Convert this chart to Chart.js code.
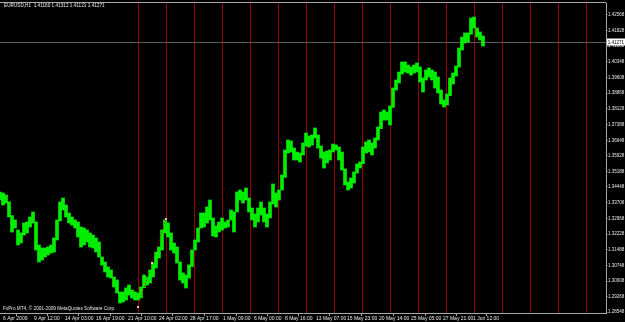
<!DOCTYPE html>
<html>
<head>
<meta charset="utf-8">
<title>EURUSD,H1</title>
<style>
  html, body { margin: 0; padding: 0; background: #000; }
  #wrap { width: 625px; height: 322px; }
</style>
</head>
<body>
<div id="wrap"><canvas id="chart" width="625" height="322"></canvas></div>
<script src="https://cdn.jsdelivr.net/npm/chart.js@4.4.0/dist/chart.umd.min.js"></script>
<script>
/* ---------------- Data ---------------- */
const symbol = 'EURUSD,H1';
const lastOHLC = ['1.41160', '1.41312', '1.41121', '1.41271'];
const lastPrice = 1.41271;
const copyright = 'FxPro MT4, \u00A9 2001-2009 MetaQuotes Software Corp.';

// one sample = 6 hourly bars (high / low of the window)
const STEP_HOURS = 6;
const highs = [
  1.34212, 1.34165, 1.34071, 1.33750, 1.33100, 1.32892, 1.32421, 1.32280, 1.32751, 1.32798,
  1.33034, 1.33269, 1.32800, 1.31714, 1.31573, 1.31573, 1.31620, 1.31714, 1.32044, 1.32892,
  1.33741, 1.33929, 1.33599, 1.33222, 1.33034, 1.32892, 1.32798, 1.32562, 1.32515, 1.32421,
  1.32280, 1.32185, 1.32044, 1.31856, 1.31149, 1.30913, 1.30677, 1.30536, 1.30206, 1.30065,
  1.29499, 1.29499, 1.29688, 1.29829, 1.29593, 1.29499, 1.29452, 1.29735, 1.30300, 1.30206,
  1.30536, 1.30866, 1.31384, 1.31620, 1.32421, 1.32892, 1.32751, 1.32280, 1.31808, 1.31620,
  1.30913, 1.30395, 1.30300, 1.30772, 1.31479, 1.31950, 1.32515, 1.33222, 1.33222, 1.33505,
  1.33835, 1.32987, 1.32610, 1.32798, 1.32987, 1.32798, 1.32892, 1.33364, 1.33269, 1.34212,
  1.34306, 1.34212, 1.34401, 1.33929, 1.33458, 1.33175, 1.33458, 1.33741, 1.33458, 1.33175,
  1.33741, 1.34589, 1.34165, 1.34306, 1.35013, 1.36191, 1.36663, 1.36616, 1.36286, 1.36097,
  1.36050, 1.36521, 1.36993, 1.36851, 1.36898, 1.37228, 1.36898, 1.36380, 1.36097, 1.36144,
  1.36191, 1.36474, 1.36427, 1.36333, 1.36097, 1.35300, 1.34683, 1.34872, 1.35155, 1.35532,
  1.35626, 1.36333, 1.36569, 1.36663, 1.36521, 1.36757, 1.37275, 1.37982, 1.38077, 1.37982,
  1.38265, 1.39114, 1.39491, 1.39868, 1.40339, 1.40339, 1.40198, 1.40103, 1.40198, 1.40292,
  1.40103, 1.39585, 1.39962, 1.40056, 1.39962, 1.39868, 1.39632, 1.39019, 1.38548, 1.38831,
  1.39585, 1.39820, 1.40150, 1.40999, 1.41517, 1.41706, 1.41706, 1.42413, 1.42460, 1.41941,
  1.41753, 1.41564
];
const lows = [
  1.33835, 1.33599, 1.33694, 1.33034, 1.32327, 1.32515, 1.31714, 1.31808, 1.32185, 1.32280,
  1.32562, 1.32751, 1.31479, 1.30913, 1.31007, 1.31149, 1.31243, 1.31337, 1.31384, 1.31950,
  1.32850, 1.33364, 1.33034, 1.32751, 1.32657, 1.32515, 1.32091, 1.31620, 1.31714, 1.31856,
  1.31620, 1.31573, 1.31384, 1.31149, 1.30772, 1.30442, 1.30206, 1.30159, 1.29735, 1.29452,
  1.28981, 1.29028, 1.29122, 1.29358, 1.29216, 1.29122, 1.29122, 1.29216, 1.29700, 1.29829,
  1.29923, 1.30206, 1.30630, 1.31101, 1.31479, 1.32280, 1.32091, 1.31479, 1.31337, 1.30866,
  1.30065, 1.29923, 1.29688, 1.30159, 1.30700, 1.31479, 1.31856, 1.32515, 1.32562, 1.32751,
  1.32892, 1.32138, 1.32091, 1.32327, 1.32421, 1.32515, 1.32562, 1.32892, 1.32327, 1.33269,
  1.33835, 1.33694, 1.33835, 1.33269, 1.32892, 1.32562, 1.32798, 1.33128, 1.32798, 1.32562,
  1.32987, 1.33650, 1.33505, 1.33835, 1.34306, 1.34900, 1.36050, 1.36097, 1.35720, 1.35720,
  1.35626, 1.35956, 1.36380, 1.36333, 1.36427, 1.36757, 1.36286, 1.35814, 1.35343, 1.35579,
  1.35720, 1.36097, 1.36191, 1.35720, 1.35249, 1.34542, 1.34306, 1.34401, 1.34636, 1.35107,
  1.35343, 1.35550, 1.36050, 1.36097, 1.35956, 1.36286, 1.36663, 1.37200, 1.37605, 1.37605,
  1.37370, 1.38200, 1.39019, 1.39349, 1.39773, 1.39868, 1.39820, 1.39726, 1.39820, 1.39868,
  1.39396, 1.38925, 1.39491, 1.39632, 1.39491, 1.39114, 1.38878, 1.38360, 1.38218, 1.38312,
  1.38750, 1.39302, 1.39679, 1.40100, 1.40905, 1.41234, 1.41282, 1.41650, 1.41941, 1.41517,
  1.41376, 1.41093
];

// time axis (hours from the first bar)
const timeLabels = ['6 Apr 2009', '9 Apr 12:00', '14 Apr 03:00', '16 Apr 19:00', '21 Apr 10:00',
  '24 Apr 02:00', '28 Apr 17:00', '1 May 09:00', '6 May 00:00', '8 May 16:00', '13 May 07:00',
  '15 May 23:00', '20 May 14:00', '25 May 05:00', '27 May 21:00', '1 Jun 12:00'];
const timeTickHours = [2, 64, 126, 188, 252, 314, 376, 442, 504, 566, 628, 690, 754, 818, 882, 942];
const hourRange = [0, 1212];

// price axis
const priceTicks = [1.42568, 1.41828, 1.41088, 1.40348, 1.39608, 1.38868, 1.38128, 1.37388,
  1.36648, 1.35928, 1.35188, 1.34448, 1.33708, 1.32968, 1.32228, 1.31488, 1.30748, 1.30008,
  1.29268, 1.28548];
const priceRange = [1.28509, 1.43120];

// red vertical lines
const separatorHours = [276, 332, 388, 444, 500, 556, 612, 668, 724, 780, 836, 892, 948,
  1004, 1060, 1116, 1172];

// trade arrows
const tradeHours = [276, 304, 332];
const tradePrices = [1.28792, 1.30866, 1.32940];

/* ---------------- Styles ---------------- */
const FONT = 'Liberation Sans';
const AXIS_COLOR = '#a8a8a8';
const TEXT_COLOR = '#e8e8e8';

/* ---------------- Plugins ---------------- */
const backgroundPlugin = {
  id: 'background',
  beforeDraw(chart) {
    const c = chart.ctx;
    c.save();
    c.fillStyle = '#000';
    c.fillRect(0, 0, chart.width, chart.height);
    c.restore();
  }
};

const overlayPlugin = {
  id: 'overlay',
  beforeDatasetsDraw(chart) {
    const c = chart.ctx;
    const area = chart.chartArea;
    const xs = chart.scales.x;
    const ys = chart.scales.y;
    c.save();
    // separators
    c.strokeStyle = '#9a0000';
    c.lineWidth = 1;
    separatorHours.forEach(h => {
      const px = Math.round(xs.getPixelForValue(h)) + 0.5;
      c.beginPath();
      c.moveTo(px, area.top);
      c.lineTo(px, area.bottom);
      c.stroke();
    });
    // current price line
    const py = Math.round(ys.getPixelForValue(lastPrice)) + 0.5;
    c.strokeStyle = '#5c5c5c';
    c.beginPath();
    c.moveTo(area.left, py);
    c.lineTo(area.right, py);
    c.stroke();
    c.restore();
  },
  afterDraw(chart) {
    const c = chart.ctx;
    const area = chart.chartArea;
    const ys = chart.scales.y;
    c.save();
    // top border
    c.strokeStyle = AXIS_COLOR;
    c.lineWidth = 1;
    c.beginPath();
    c.moveTo(area.left, area.top - 0.5);
    c.lineTo(area.right, area.top - 0.5);
    c.stroke();

    // header + copyright
    c.font = '4.7px "' + FONT + '"';
    c.fillStyle = TEXT_COLOR;
    c.textBaseline = 'middle';
    c.textAlign = 'left';
    c.fillText(symbol + '  ' + lastOHLC.join(' '), 4, 6);
    c.fillText(copyright, 3, 309);

    // current price label
    const py = Math.round(ys.getPixelForValue(lastPrice));
    c.fillStyle = '#ffffff';
    c.fillRect(area.right + 1, py - 3.5, chart.width - area.right - 1, 7);
    c.fillStyle = '#000';
    c.font = '4.5px "' + FONT + '"';
    c.fillText(lastPrice.toFixed(5), area.right + 1.8, py + 0.5);
    c.restore();
  }
};

/* ---------------- Chart ---------------- */
const bars = highs.map((h, i) => ({ x: i * STEP_HOURS, y: [lows[i], h] }));
const trades = tradeHours.map((h, i) => ({ x: h, y: tradePrices[i] }));

const ctx = document.getElementById('chart').getContext('2d');
new Chart(ctx, {
  type: 'bar',
  data: {
    datasets: [
      {
        type: 'line',
        data: trades,
        borderColor: '#c80000',
        borderWidth: 1,
        borderDash: [1, 2],
        pointStyle: 'rect',
        pointRadius: 1.5,
        pointBackgroundColor: '#ffb8b8',
        pointBorderWidth: 0,
        order: 0
      },
      {
        data: bars,
        backgroundColor: '#00ee00',
        borderWidth: 0,
        barPercentage: 1,
        categoryPercentage: 1,
        order: 1
      }
    ]
  },
  options: {
    responsive: false,
    animation: false,
    events: [],
    layout: { padding: { top: 3, left: 0, right: 0, bottom: 0 }, autoPadding: false },
    plugins: { legend: { display: false }, tooltip: { enabled: false } },
    scales: {
      x: {
        type: 'linear',
        min: hourRange[0],
        max: hourRange[1],
        offset: false,
        afterBuildTicks: s => { s.ticks = timeTickHours.map(v => ({ value: v })); },
        afterFit: s => { s.height = 9; s.paddingLeft = 0; s.paddingRight = 0; },
        ticks: {
          autoSkip: false,
          maxRotation: 0,
          align: 'start',
          labelOffset: 2,
          padding: 0,
          color: TEXT_COLOR,
          font: { family: FONT, size: 5 },
          callback: (v, i) => timeLabels[i]
        },
        grid: { drawOnChartArea: false, drawTicks: true, tickLength: 3, color: AXIS_COLOR },
        border: { display: true, color: AXIS_COLOR }
      },
      y: {
        position: 'right',
        min: priceRange[0],
        max: priceRange[1],
        afterBuildTicks: s => { s.ticks = priceTicks.map(v => ({ value: v })); },
        afterFit: s => { s.width = 19; s.paddingTop = 0; s.paddingBottom = 0; },
        ticks: {
          autoSkip: false,
          padding: 0.5,
          color: TEXT_COLOR,
          font: { family: FONT, size: 4.5 },
          callback: v => v.toFixed(5)
        },
        grid: { drawOnChartArea: false, drawTicks: true, tickLength: 1.5, color: AXIS_COLOR },
        border: { display: true, color: AXIS_COLOR }
      }
    }
  },
  plugins: [backgroundPlugin, overlayPlugin]
});
</script>
</body>
</html>
